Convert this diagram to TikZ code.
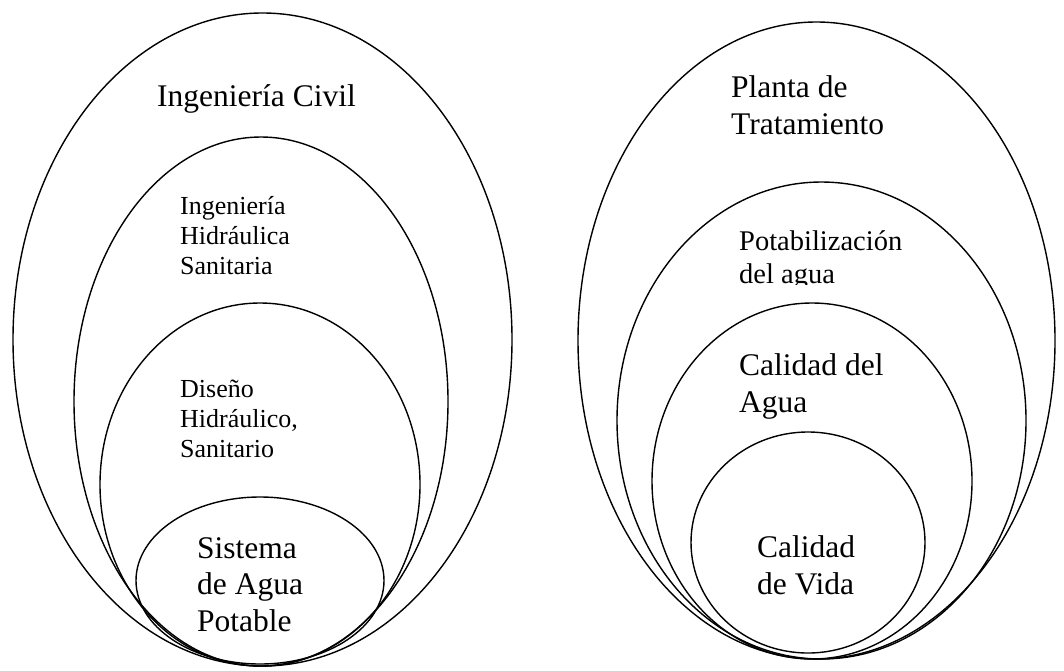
\documentclass[tikz,border=0pt]{standalone}
\usepackage{fontspec}
\setmainfont{Liberation Serif}

\begin{document}
\begin{tikzpicture}[x=1pt, y=-1pt, ring/.style={line width=1.4pt},
    txt/.style={anchor=base west, align=left, inner sep=0pt},
    big/.style={font=\fontsize{31.5}{36.5}\selectfont},
    mid/.style={font=\fontsize{28.5}{33}\selectfont},
    small/.style={font=\fontsize{26}{30}\selectfont}]
    \useasboundingbox (0,0) rectangle (1064,670);

    % left group
    \draw[ring] (262.5,339.5) ellipse (249.5 and 326.5);
    \draw[ring] (261,401.5)   ellipse (187 and 264.5);
    \draw[ring] (260,484.5)   ellipse (160 and 181.5);
    \draw[ring] (260,580.5)   ellipse (124 and 83.5);

    % anchors sit on the last baseline of each label
    \node[txt, big]   (civil)    at (157,106) {Ingeniería Civil};
    \node[txt, small] (hidsan)   at (180,274) {Ingeniería\\Hidráulica\\Sanitaria};
    \node[txt, small] (diseno)   at (180,457) {Diseño\\Hidráulico,\\Sanitario};
    \node[txt, big]   (sistema)  at (197,631) {Sistema\\de Agua\\Potable};

    % right group
    \draw[ring] (816.5,340.5) ellipse (238.5 and 318.5);
    \draw[ring] (821.5,420.5) ellipse (204.5 and 238.5);
    \draw[ring] (812,481)     ellipse (160 and 178);
    \draw[ring] (808,542.5)   ellipse (117 and 110.5);

    \node[txt, big]   (planta)   at (731,134) {Planta de\\Tratamiento};
    \begin{scope}
        \clip (700,200) rectangle (1000,284.5);
        \node[txt, mid] (potab)  at (739,283) {Potabilización\\del agua};
    \end{scope}
    \node[txt, big]   (calagua)  at (739,412) {Calidad del\\Agua};
    \node[txt, big]   (calvida)  at (757,594) {Calidad\\de Vida};
\end{tikzpicture}
\end{document}
